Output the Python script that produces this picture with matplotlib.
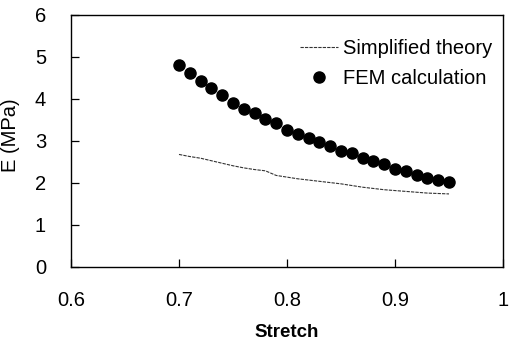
import matplotlib
matplotlib.use("Agg")
import matplotlib.pyplot as plt

plt.rcParams["font.family"] = ["Liberation Sans", "DejaVu Sans"]

# Stretch values (x) shared by both series
stretch = [0.70, 0.71, 0.72, 0.73, 0.74, 0.75, 0.76, 0.77, 0.78, 0.79,
           0.80, 0.81, 0.82, 0.83, 0.84, 0.85, 0.86, 0.87, 0.88, 0.89,
           0.90, 0.91, 0.92, 0.93, 0.94, 0.95]

# FEM calculation (dots)
fem = [4.81, 4.63, 4.42, 4.27, 4.10, 3.91, 3.77, 3.67, 3.53, 3.42,
       3.26, 3.17, 3.06, 2.98, 2.88, 2.77, 2.71, 2.60, 2.52, 2.45,
       2.34, 2.28, 2.20, 2.13, 2.06, 2.02]

# Simplified theory (thin dotted line)
theory = [2.68, 2.63, 2.59, 2.53, 2.47, 2.41, 2.36, 2.32, 2.29, 2.18,
          2.14, 2.10, 2.07, 2.04, 2.01, 1.98, 1.94, 1.90, 1.87, 1.84,
          1.82, 1.80, 1.78, 1.76, 1.75, 1.74]

x_ticks = [0.6, 0.7, 0.8, 0.9, 1.0]
x_tick_labels = ["0.6", "0.7", "0.8", "0.9", "1"]
y_ticks = [0, 1, 2, 3, 4, 5, 6]

fig = plt.figure(figsize=(5.09, 3.48), dpi=100)
ax = fig.add_axes([71 / 509, 81 / 348, 432 / 509, 252 / 348])

ax.plot(stretch, theory, color="#333333", lw=0.8, linestyle=(0, (3, 1)),
        label="Simplified theory")
ax.plot(stretch, fem, linestyle="none", marker="o", ms=8, color="black",
        label="FEM calculation")

ax.set_xlim(0.6, 1.0)
ax.set_ylim(0, 6)
ax.set_xticks(x_ticks)
ax.set_xticklabels(x_tick_labels)
ax.set_yticks(y_ticks)
ax.tick_params(axis="both", direction="in", length=6, width=0.9,
               labelsize=14.5)
ax.tick_params(axis="x", pad=17)
ax.tick_params(axis="y", pad=18)
for s in ax.spines.values():
    s.set_linewidth(1.0)

ax.set_xlabel("Stretch", fontsize=13.5, fontweight="bold")
ax.xaxis.set_label_coords(0.5, -0.228)
ax.set_ylabel("E (MPa)", fontsize=14.5)
ax.yaxis.set_label_coords(-0.118, 0.524)

ax.legend(loc="upper right", bbox_to_anchor=(0.975, 0.905), frameon=False,
          fontsize=14.5, handlelength=1.9, handletextpad=0.25,
          labelspacing=0.55, borderpad=0, borderaxespad=0)

fig.savefig("out.png", dpi=100)
